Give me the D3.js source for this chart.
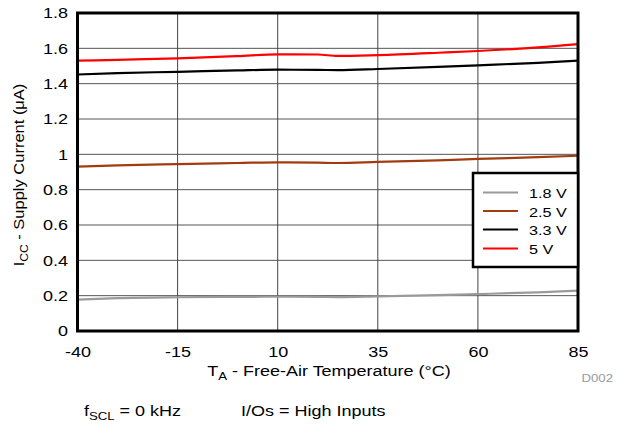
<!DOCTYPE html>
<html><head><meta charset="utf-8">
<script src="https://cdn.jsdelivr.net/npm/d3@7"></script>
<style>body{margin:0;background:#fff}svg{display:block;font-family:"Liberation Sans",Arial,sans-serif}</style>
</head><body><svg id="c" width="621" height="426"></svg>
<script>
const temps = [-40, -30, -15, 0, 10, 20, 25, 35, 50, 60, 75, 85];
const v18 = [0.178, 0.186, 0.191, 0.193, 0.194, 0.193, 0.192, 0.196, 0.203, 0.209, 0.219, 0.228];
const v25 = [0.930, 0.938, 0.945, 0.951, 0.955, 0.953, 0.951, 0.957, 0.966, 0.974, 0.984, 0.992];
const v33 = [1.452, 1.460, 1.467, 1.475, 1.479, 1.478, 1.477, 1.483, 1.495, 1.504, 1.518, 1.530];
const v50 = [1.530, 1.535, 1.543, 1.556, 1.566, 1.565, 1.557, 1.562, 1.575, 1.585, 1.605, 1.624];
const seriesNames = ["1.8 V", "2.5 V", "3.3 V", "5 V"];
const seriesColors = ["#9a9a9a", "#a33b10", "#000000", "#ff0000"];
const xTicks = [-40, -15, 10, 35, 60, 85];
const yTicks = [0, 0.2, 0.4, 0.6, 0.8, 1, 1.2, 1.4, 1.6, 1.8];

const SX = 1.2; // horizontal stretch of text in the reference
function stretch(sel) {
  sel.each(function () {
    const ax = +(this.getAttribute("x") || 0);
    const prev = this.getAttribute("transform") || "";
    this.setAttribute("transform", `${prev} translate(${ax},0) scale(${SX},1) translate(${-ax},0)`);
  });
}

const svg = d3.select("#c");
const L = 77.5, R = 578, T = 13, B = 331;
const x = d3.scaleLinear().domain([-40, 85]).range([L, R]);
const y = d3.scaleLinear().domain([0, 1.8]).range([B, T]);

// grid
svg.append("g").selectAll("line").data(yTicks).join("line")
  .attr("x1", L).attr("x2", R).attr("y1", d => y(d)).attr("y2", d => y(d))
  .attr("stroke", "#555").attr("stroke-width", 1);
svg.append("g").selectAll("line").data(xTicks).join("line")
  .attr("y1", T).attr("y2", B).attr("x1", d => x(d)).attr("x2", d => x(d))
  .attr("stroke", "#444").attr("stroke-width", 1);

// series
const all = [v18, v25, v33, v50];
const line = d3.line().x((d, i) => x(temps[i])).y(d => y(d)).curve(d3.curveMonotoneX);
all.forEach((s, k) => {
  svg.append("path").attr("d", line(s)).attr("fill", "none")
    .attr("stroke", seriesColors[k]).attr("stroke-width", 2.2);
});

// frame
svg.append("rect").attr("x", L).attr("y", T).attr("width", R - L).attr("height", B - T)
  .attr("fill", "none").attr("stroke", "#000").attr("stroke-width", 3);

// axes labels
const yAxis = d3.axisLeft(y).tickValues(yTicks).tickSize(0).tickPadding(9.5).tickFormat(d => String(+d.toFixed(1)));
const gy = svg.append("g").attr("transform", `translate(${L},0)`).call(yAxis);
gy.select(".domain").remove();
gy.selectAll("text").attr("font-size", 15).attr("fill", "#000").attr("font-family", "Liberation Sans, Arial, sans-serif").call(stretch);

const xAxis = d3.axisBottom(x).tickValues(xTicks).tickSize(0).tickPadding(15).tickFormat(d => String(d));
const gx = svg.append("g").attr("transform", `translate(0,${B})`).call(xAxis);
gx.select(".domain").remove();
gx.selectAll("text").attr("font-size", 15).attr("fill", "#000").attr("font-family", "Liberation Sans, Arial, sans-serif").call(stretch);

// x title
const xt = svg.append("text").attr("x", 329).attr("y", 376).attr("text-anchor", "middle").attr("font-size", 15);
xt.append("tspan").text("T");
xt.append("tspan").attr("font-size", 11).attr("dy", 4).text("A");
xt.append("tspan").attr("dy", -4).text(" - Free-Air Temperature (°C)");
xt.call(stretch);

// y title
const yt = svg.append("text").attr("transform", "translate(24,175) rotate(-90) scale(1.1,1)").attr("text-anchor", "middle").attr("font-size", 15);
yt.append("tspan").text("I");
yt.append("tspan").attr("font-size", 11).attr("dy", 4).text("CC");
yt.append("tspan").attr("dy", -4).text(" - Supply Current (μA)");

// D002
svg.append("text").attr("x", 613).attr("y", 382.5).attr("text-anchor", "end").attr("font-size", 11).attr("fill", "#9a9a9a").text("D002").call(stretch);

// footnotes
const f1 = svg.append("text").attr("x", 84).attr("y", 416).attr("font-size", 15);
f1.append("tspan").text("f");
f1.append("tspan").attr("font-size", 11).attr("dy", 4).text("SCL");
f1.append("tspan").attr("dy", -4).text(" = 0 kHz");
f1.call(stretch);
svg.append("text").attr("x", 241).attr("y", 416).attr("font-size", 15).text("I/Os = High Inputs").call(stretch);

// legend
const lg = svg.append("g");
lg.append("rect").attr("x", 473).attr("y", 173).attr("width", R - 473).attr("height", 94)
  .attr("fill", "#fff").attr("stroke", "#000").attr("stroke-width", 2.5);
const rows = [192.5, 211, 229.5, 248.5];
seriesNames.forEach((n, k) => {
  lg.append("line").attr("x1", 483).attr("x2", 518).attr("y1", rows[k]).attr("y2", rows[k])
    .attr("stroke", seriesColors[k]).attr("stroke-width", 2.2);
  lg.append("text").attr("x", 529).attr("y", rows[k] + 6).attr("font-size", 13.5).text(n).call(stretch);
});
</script></body></html>
